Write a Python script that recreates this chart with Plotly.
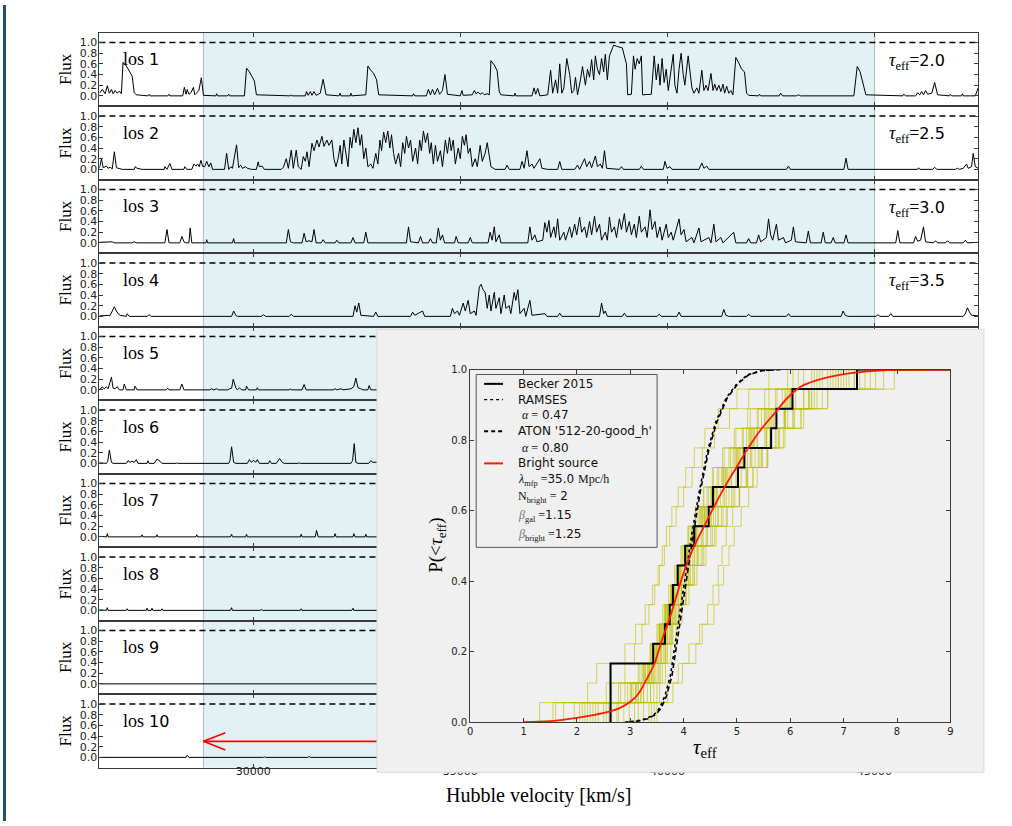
import plotly.graph_objects as go

W, H = 1012, 826

# ---------------- data ----------------
vel_range = [26290, 47500]
shade_range = [28800, 45000]
vel_ticks = [30000, 35000, 40000, 45000]
flux_ticks = [0.0, 0.2, 0.4, 0.6, 0.8, 1.0]
flux_range = [-0.193, 1.185]
unit_flux = 1.0
los_names = ["1", "2", "3", "4", "5", "6", "7", "8", "9", "10"]
tau_eff_labels = ["2.0", "2.5", "3.0", "3.5"]

los1 = [(26290,0.05),(26360,0.12),(26430,0.04),(26480,0.19),(26530,0.05),(26580,0.12),(26620,0.04),(26670,0.10),(26720,0.05),(26770,0.09),(26820,0.04),(26860,0.63),(26940,0.56),(26980,0.50),(27030,0.44),(27080,0.37),(27130,0.06),(27180,0.02),(27460,0.0),(27490,0.03),(27510,0.0),(27940,0.0),(27970,0.03),(27990,0.0),(28300,0.0),(28340,0.16),(28380,0.03),(28410,0.12),(28450,0.03),(28500,0.06),(28560,0.16),(28590,0.02),(28690,0.10),(28750,0.34),(28800,0.01),(29100,0.0),(29120,0.04),(29140,0.0),(29380,0.0),(29410,0.03),(29430,0.0),(29790,0.0),(29840,0.52),(29910,0.45),(29980,0.35),(30030,0.28),(30080,0.02),(30900,0.0),(30920,0.02),(30940,0.0),(31260,0.0),(31290,0.08),(31330,0.01),(31380,0.08),(31420,0.01),(31470,0.08),(31520,0.01),(31620,0.05),(31690,0.31),(31760,0.02),(32070,0.0),(32100,0.05),(32120,0.0),(32340,0.0),(32360,0.05),(32380,0.0),(32720,0.02),(32770,0.56),(32840,0.48),(32910,0.42),(32980,0.30),(33030,0.02),(33850,0.0),(33870,0.04),(33900,0.0),(34180,0.0),(34230,0.12),(34280,0.02),(34330,0.12),(34380,0.02),(34450,0.14),(34500,0.03),(34570,0.10),(34630,0.40),(34690,0.03),(35000,0.0),(35040,0.10),(35070,0.01),(35290,0.02),(35340,0.10),(35380,0.04),(35430,0.07),(35480,0.03),(35530,0.06),(35580,0.02),(35650,0.04),(35700,0.02),(35740,0.66),(35820,0.58),(35890,0.47),(35940,0.08),(35980,0.02),(36300,0.0),(36320,0.05),(36340,0.0),(36730,0.0),(36780,0.15),(36820,0.03),(36870,0.14),(36920,0.0),(37110,0.02),(37180,0.48),(37230,0.05),(37300,0.30),(37350,0.05),(37400,0.60),(37450,0.05),(37500,0.15),(37570,0.70),(37640,0.40),(37690,0.05),(37740,0.10),(37780,0.35),(37830,0.02),(37900,0.30),(37950,0.55),(38020,0.20),(38070,0.50),(38120,0.35),(38170,0.68),(38220,0.30),(38260,0.75),(38310,0.50),(38360,0.40),(38410,0.70),(38460,0.45),(38500,0.78),(38550,0.30),(38600,0.75),(38650,0.85),(38700,0.95),(38770,0.93),(38840,0.92),(38910,0.90),(38960,0.75),(39010,0.60),(39040,0.02),(39130,0.03),(39180,0.75),(39220,0.50),(39270,0.70),(39320,0.60),(39370,0.75),(39400,0.02),(39610,0.03),(39680,0.75),(39730,0.30),(39780,0.60),(39820,0.20),(39870,0.70),(39920,0.25),(39970,0.50),(40020,0.10),(40060,0.30),(40140,0.78),(40180,0.20),(40230,0.05),(40280,0.50),(40330,0.80),(40380,0.40),(40420,0.20),(40500,0.75),(40540,0.50),(40590,0.15),(40640,0.05),(40710,0.15),(40760,0.05),(40830,0.48),(40880,0.10),(40930,0.20),(40980,0.10),(41050,0.42),(41100,0.10),(41140,0.22),(41190,0.10),(41240,0.20),(41290,0.08),(41340,0.22),(41380,0.05),(41430,0.18),(41480,0.05),(41530,0.10),(41580,0.02),(41650,0.72),(41720,0.62),(41790,0.50),(41860,0.45),(41910,0.05),(41960,0.01),(42200,0.0),(42220,0.03),(42250,0.0),(42700,0.0),(42730,0.05),(42780,0.0),(43110,0.0),(43160,0.02),(43210,0.0),(44500,0.0),(44580,0.55),(44650,0.45),(44720,0.25),(44790,0.02),(45680,0.0),(45700,0.03),(45750,0.0),(45990,0.0),(46040,0.06),(46090,0.02),(46140,0.08),(46180,0.02),(46230,0.10),(46280,0.03),(46380,0.05),(46450,0.25),(46520,0.02),(46810,0.0),(46830,0.03),(46860,0.0),(47100,0.0),(47120,0.04),(47140,0.0),(47430,0.0),(47500,0.15)]

los2 = [(26290,0.02),(26340,0.2),(26380,0.03),(26460,0.06),(26500,0.02),(26550,0.04),(26600,0.01),(26650,0.33),(26700,0.03),(26770,0.02),(26840,0.0),(27130,0.0),(27150,0.05),(27200,0.02),(27320,0.0),(27850,0.0),(27870,0.05),(27920,0.0),(27940,0.03),(27990,0.11),(28040,0.0),(28330,0.0),(28350,0.05),(28400,0.0),(28520,0.0),(28570,0.1),(28620,0.06),(28660,0.1),(28700,0.05),(28740,0.17),(28780,0.06),(28830,0.05),(28880,0.15),(28930,0.05),(28980,0.12),(29020,0.0),(29310,0.0),(29360,0.3),(29410,0.0),(29460,0.05),(29500,0.02),(29600,0.46),(29650,0.03),(29700,0.08),(29740,0.02),(29820,0.05),(29860,0.02),(29960,0.0),(30080,0.0),(30120,0.14),(30150,0.05),(30220,0.06),(30270,0.0),(30680,0.0),(30730,0.04),(30800,0.2),(30850,0.02),(30920,0.36),(30970,0.02),(31040,0.36),(31090,0.05),(31160,0.0),(31210,0.24),(31260,0.15),(31300,0.33),(31350,0.05),(31420,0.49),(31470,0.35),(31540,0.55),(31590,0.42),(31660,0.62),(31710,0.43),(31780,0.55),(31830,0.45),(31900,0.55),(31950,0.2),(32000,0.05),(32050,0.2),(32100,0.45),(32140,0.1),(32190,0.55),(32240,0.3),(32290,0.05),(32340,0.6),(32380,0.4),(32430,0.75),(32480,0.5),(32530,0.78),(32580,0.45),(32620,0.65),(32670,0.2),(32720,0.4),(32770,0.05),(32840,0.1),(32890,0.02),(32960,0.3),(33010,0.1),(33060,0.55),(33100,0.35),(33150,0.7),(33200,0.5),(33250,0.72),(33300,0.4),(33340,0.65),(33390,0.3),(33440,0.1),(33510,0.3),(33560,0.05),(33610,0.5),(33660,0.3),(33700,0.62),(33750,0.4),(33800,0.55),(33850,0.15),(33920,0.4),(33970,0.1),(34020,0.55),(34060,0.35),(34110,0.72),(34160,0.5),(34210,0.68),(34260,0.3),(34300,0.5),(34350,0.1),(34400,0.45),(34450,0.15),(34520,0.35),(34570,0.05),(34640,0.55),(34690,0.3),(34740,0.6),(34780,0.35),(34830,0.55),(34880,0.1),(34950,0.4),(35000,0.2),(35050,0.62),(35100,0.45),(35140,0.65),(35190,0.3),(35240,0.4),(35290,0.05),(35360,0.2),(35410,0.05),(35480,0.45),(35530,0.15),(35600,0.3),(35650,0.5),(35700,0.2),(35740,0.05),(35840,0.0),(36080,0.0),(36130,0.08),(36180,0.0),(36440,0.0),(36490,0.15),(36540,0.02),(36610,0.35),(36660,0.05),(36730,0.1),(36780,0.02),(36920,0.2),(36970,0.02),(37110,0.0),(37350,0.0),(37400,0.15),(37450,0.0),(37760,0.0),(37830,0.08),(37880,0.0),(38000,0.2),(38050,0.05),(38120,0.15),(38170,0.03),(38260,0.25),(38310,0.05),(38380,0.1),(38430,0.02),(38480,0.35),(38530,0.02),(38840,0.0),(38890,0.05),(38940,0.0),(39320,0.0),(39370,0.06),(39420,0.0),(39900,0.0),(39940,0.15),(39990,0.02),(40060,0.05),(40110,0.0),(40760,0.0),(40830,0.12),(40880,0.02),(40950,0.06),(41000,0.0),(42870,0.0),(42920,0.06),(42970,0.0),(44260,0.0),(44310,0.21),(44360,0.0),(46040,0.0),(46060,0.03),(46090,0.0),(46400,0.0),(46450,0.04),(46500,0.0),(46950,0.0),(47000,0.02),(47050,0.0),(47140,0.02),(47220,0.1),(47260,0.02),(47340,0.05),(47380,0.3),(47430,0.05),(47500,0.02)]

los3 = [(26290,0.01),(26600,0.02),(26650,0.0),(27080,0.0),(27130,0.02),(27180,0.0),(27870,0.0),(27920,0.25),(27970,0.0),(28230,0.0),(28280,0.12),(28330,0.02),(28380,0.0),(28450,0.0),(28480,0.28),(28520,0.0),(28860,0.0),(28880,0.06),(28900,0.0),(29500,0.0),(29530,0.08),(29550,0.0),(30800,0.0),(30850,0.25),(30900,0.02),(30970,0.0),(31180,0.0),(31230,0.18),(31280,0.02),(31350,0.04),(31420,0.02),(31470,0.25),(31520,0.0),(31640,0.0),(31690,0.06),(31740,0.0),(31980,0.0),(32020,0.05),(32070,0.0),(32360,0.0),(32410,0.1),(32460,0.0),(32670,0.0),(32720,0.2),(32770,0.0),(33700,0.0),(33750,0.3),(33800,0.02),(33990,0.0),(34040,0.12),(34090,0.0),(34230,0.0),(34280,0.08),(34330,0.0),(34420,0.0),(34470,0.28),(34520,0.05),(34570,0.15),(34620,0.0),(34860,0.0),(34900,0.12),(34950,0.0),(35190,0.0),(35240,0.1),(35290,0.0),(35670,0.0),(35720,0.2),(35770,0.05),(35820,0.3),(35860,0.02),(35940,0.15),(35980,0.0),(36630,0.0),(36680,0.3),(36730,0.05),(36800,0.15),(36850,0.02),(36990,0.05),(37040,0.38),(37090,0.2),(37140,0.42),(37180,0.1),(37260,0.3),(37300,0.1),(37350,0.45),(37400,0.05),(37500,0.2),(37540,0.05),(37640,0.3),(37690,0.1),(37760,0.35),(37810,0.15),(37880,0.48),(37930,0.2),(38000,0.3),(38050,0.1),(38120,0.4),(38170,0.15),(38240,0.5),(38290,0.2),(38360,0.35),(38410,0.05),(38500,0.2),(38550,0.05),(38600,0.48),(38650,0.2),(38720,0.3),(38770,0.1),(38840,0.45),(38890,0.25),(38960,0.55),(39010,0.2),(39080,0.4),(39130,0.15),(39200,0.35),(39250,0.1),(39320,0.5),(39370,0.2),(39460,0.3),(39510,0.1),(39580,0.62),(39630,0.25),(39700,0.4),(39750,0.1),(39820,0.3),(39870,0.05),(39970,0.35),(40020,0.1),(40090,0.2),(40140,0.05),(40280,0.45),(40330,0.15),(40400,0.25),(40450,0.02),(40590,0.1),(40640,0.0),(40760,0.28),(40810,0.02),(41000,0.1),(41050,0.0),(41120,0.35),(41170,0.02),(41290,0.1),(41340,0.0),(41600,0.2),(41650,0.0),(41910,0.0),(41960,0.08),(42010,0.0),(42150,0.0),(42200,0.15),(42250,0.02),(42390,0.1),(42440,0.45),(42490,0.15),(42540,0.05),(42630,0.35),(42680,0.05),(42800,0.1),(42850,0.0),(42990,0.05),(43040,0.3),(43090,0.02),(43350,0.0),(43400,0.22),(43450,0.0),(43710,0.0),(43760,0.2),(43810,0.0),(43950,0.0),(44000,0.1),(44050,0.0),(44260,0.0),(44310,0.15),(44360,0.0),(45510,0.0),(45560,0.23),(45610,0.0),(45940,0.0),(45990,0.12),(46040,0.03),(46110,0.05),(46180,0.3),(46230,0.02),(46420,0.0),(46470,0.04),(46520,0.0),(46710,0.0),(46760,0.04),(46810,0.0),(47140,0.0),(47190,0.05),(47240,0.0),(47500,0.01)]

los4 = [(26290,0.01),(26550,0.02),(26600,0.1),(26650,0.18),(26700,0.1),(26740,0.05),(26790,0.02),(26940,0.0),(26960,0.05),(27010,0.0),(27440,0.0),(27490,0.03),(27540,0.0),(29480,0.0),(29530,0.1),(29580,0.02),(29620,0.0),(30200,0.0),(30250,0.03),(30300,0.0),(30870,0.0),(30920,0.04),(30970,0.0),(32410,0.0),(32460,0.2),(32500,0.08),(32550,0.25),(32600,0.02),(32910,0.0),(32960,0.08),(33010,0.0),(33800,0.0),(33850,0.08),(33900,0.02),(34090,0.1),(34140,0.0),(34760,0.0),(34810,0.15),(34860,0.05),(34930,0.1),(34980,0.02),(35070,0.25),(35120,0.1),(35190,0.3),(35240,0.05),(35340,0.1),(35380,0.02),(35460,0.55),(35500,0.6),(35550,0.5),(35600,0.45),(35650,0.15),(35700,0.4),(35740,0.1),(35820,0.45),(35860,0.15),(35940,0.35),(35980,0.05),(36060,0.4),(36100,0.15),(36180,0.2),(36220,0.05),(36300,0.45),(36340,0.3),(36390,0.5),(36440,0.05),(36540,0.15),(36580,0.0),(36680,0.3),(36730,0.02),(37040,0.05),(37090,0.0),(37350,0.0),(37400,0.06),(37450,0.0),(38360,0.0),(38410,0.25),(38460,0.05),(38500,0.1),(38550,0.0),(38910,0.0),(38960,0.06),(39010,0.0),(39750,0.0),(39800,0.04),(39850,0.0),(40230,0.0),(40280,0.08),(40330,0.0),(41310,0.0),(41360,0.13),(41410,0.02),(41480,0.0),(41910,0.0),(41960,0.04),(42010,0.0),(42870,0.0),(42920,0.05),(42970,0.0),(44190,0.0),(44240,0.1),(44290,0.02),(44360,0.0),(45030,0.0),(45080,0.03),(45130,0.0),(45340,0.0),(45390,0.05),(45440,0.0),(47140,0.0),(47190,0.05),(47240,0.16),(47290,0.08),(47340,0.02),(47500,0.01)]

los5 = [(26290,0.01),(26360,0.05),(26410,0.02),(26460,0.06),(26500,0.02),(26580,0.24),(26620,0.03),(26670,0.02),(26720,0.06),(26770,0.0),(26860,0.0),(26890,0.11),(26940,0.0),(27130,0.0),(27150,0.07),(27200,0.0),(27900,0.0),(27940,0.03),(27970,0.0),(28230,0.0),(28280,0.11),(28330,0.0),(28950,0.0),(29000,0.02),(29050,0.0),(29120,0.02),(29170,0.0),(29380,0.0),(29430,0.02),(29480,0.03),(29520,0.2),(29580,0.04),(29620,0.0),(29670,0.04),(29720,0.0),(29820,0.0),(29840,0.07),(29890,0.0),(30080,0.0),(30100,0.04),(30130,0.0),(30870,0.0),(30900,0.02),(30920,0.0),(31180,0.0),(31230,0.1),(31280,0.0),(31930,0.0),(31980,0.02),(32020,0.0),(32120,0.02),(32170,0.0),(32360,0.02),(32430,0.06),(32480,0.22),(32530,0.04),(32600,0.02),(32650,0.0),(32770,0.0),(32800,0.08),(32840,0.0),(47500,0.0)]

los6 = [(26290,0.01),(26460,0.0),(26490,0.04),(26530,0.25),(26580,0.02),(26620,0.0),(26940,0.0),(26980,0.05),(27030,0.02),(27080,0.04),(27130,0.02),(27180,0.07),(27220,0.0),(27440,0.0),(27460,0.05),(27490,0.0),(27610,0.0),(27680,0.08),(27750,0.04),(27800,0.0),(28140,0.0),(28160,0.01),(28180,0.0),(29410,0.0),(29440,0.05),(29480,0.31),(29530,0.02),(29580,0.0),(29860,0.0),(29910,0.07),(29960,0.02),(30010,0.06),(30060,0.02),(30100,0.07),(30150,0.0),(30370,0.0),(30400,0.05),(30440,0.0),(30560,0.0),(30640,0.09),(30700,0.02),(30750,0.0),(31090,0.0),(31110,0.01),(31140,0.0),(32360,0.0),(32400,0.05),(32440,0.37),(32480,0.02),(32530,0.0),(32790,0.0),(32840,0.05),(32890,0.02),(47500,0.0)]

los7 = [(26290,0.01),(26460,0.0),(26480,0.06),(26500,0.0),(27300,0.0),(27320,0.04),(27340,0.0),(27660,0.0),(27680,0.04),(27700,0.0),(28620,0.0),(28640,0.04),(28660,0.0),(29450,0.0),(29480,0.05),(29500,0.0),(29820,0.0),(29840,0.05),(29860,0.0),(31140,0.0),(31160,0.05),(31180,0.0),(31500,0.0),(31530,0.12),(31570,0.0),(31950,0.0),(31980,0.06),(32000,0.0),(32410,0.0),(32430,0.06),(32460,0.0),(32700,0.0),(32720,0.05),(32740,0.0),(47500,0.0)]

los8 = [(26290,0.01),(26460,0.0),(26480,0.05),(26500,0.0),(26940,0.0),(26960,0.03),(26980,0.0),(27420,0.0),(27440,0.04),(27460,0.0),(27540,0.0),(27560,0.04),(27580,0.0),(27780,0.0),(27800,0.03),(27820,0.0),(29450,0.0),(29480,0.05),(29500,0.0),(30170,0.0),(30200,0.02),(30220,0.0),(31140,0.0),(31160,0.03),(31180,0.0),(32380,0.0),(32410,0.04),(32430,0.0),(47500,0.0)]

los9 = [(26290,0.0),(28780,0.0),(28800,0.01),(28830,0.0),(47500,0.0)]

los10 = [(26290,0.0),(27300,0.0),(27320,0.01),(27340,0.0),(28380,0.0),(28410,0.04),(28450,0.0),(30250,0.0),(30270,0.01),(30300,0.0),(31330,0.0),(31350,0.02),(31380,0.0),(47500,0.0)]

all_los = [los1, los2, los3, los4, los5, los6, los7, los8, los9, los10]

arrow_tail_v = 34500
arrow_tip_v = 28800
arrow_flux = 0.3
arrow_head_dv = 530
arrow_head_df = 0.16

# CDF inset data
tau_range = [0, 9]
tau_ticks = [0, 1, 2, 3, 4, 5, 6, 7, 8, 9]
p_ticks = [0.0, 0.2, 0.4, 0.6, 0.8, 1.0]
becker_tau = [2.63, 2.63, 2.63, 3.43, 3.65, 3.74, 3.80, 3.89, 4.03, 4.20, 4.47, 4.55, 5.02, 5.14, 5.64, 5.74, 6.04, 7.25]
ramses_tau = [2.90, 3.10, 3.30, 3.45, 3.55, 3.65, 3.75, 3.85, 3.95, 4.05, 4.15, 4.30, 4.45, 4.60, 4.80, 5.00, 5.20, 5.45, 5.80]
ramses_p = [0.0, 0.003, 0.01, 0.022, 0.04, 0.075, 0.13, 0.23, 0.34, 0.44, 0.53, 0.66, 0.77, 0.85, 0.92, 0.96, 0.985, 0.997, 1.0]
aton_tau = [2.95, 3.15, 3.33, 3.48, 3.58, 3.68, 3.78, 3.88, 3.98, 4.08, 4.18, 4.32, 4.47, 4.62, 4.82, 5.02, 5.22, 5.47, 5.82]
aton_p = [0.0, 0.003, 0.01, 0.022, 0.04, 0.075, 0.13, 0.23, 0.34, 0.44, 0.53, 0.66, 0.77, 0.85, 0.92, 0.96, 0.985, 0.997, 1.0]
bright_tau = [1.0, 1.5, 2.0, 2.3, 2.6, 2.8, 3.0, 3.15, 3.3, 3.45, 3.6, 3.75, 3.9, 4.05, 4.2, 4.4, 4.6, 4.8, 5.0, 5.2, 5.45, 5.7, 5.95, 6.2, 6.5, 6.9, 7.4, 8.0, 9.0]
bright_p = [0.0, 0.003, 0.012, 0.02, 0.03, 0.04, 0.058, 0.08, 0.12, 0.165, 0.235, 0.30, 0.375, 0.445, 0.50, 0.56, 0.62, 0.675, 0.725, 0.775, 0.83, 0.875, 0.92, 0.952, 0.97, 0.984, 0.994, 0.999, 1.0]

mock_samples = [
    [2.30, 3.10, 3.35, 3.50, 3.62, 3.72, 3.83, 3.95, 4.08, 4.22, 4.40, 4.62, 4.85, 5.10, 5.38, 5.70, 6.10, 6.90],
    [1.30, 2.95, 3.25, 3.42, 3.55, 3.66, 3.78, 3.90, 4.02, 4.16, 4.32, 4.52, 4.75, 5.00, 5.28, 5.60, 6.00, 6.60],
    [2.75, 3.20, 3.42, 3.58, 3.70, 3.82, 3.95, 4.10, 4.26, 4.44, 4.65, 4.90, 5.18, 5.48, 5.80, 6.20, 6.70, 7.95],
    [2.05, 2.65, 3.28, 3.46, 3.58, 3.70, 3.82, 3.94, 4.08, 4.24, 4.42, 4.64, 4.90, 5.20, 5.52, 5.90, 6.35, 7.40],
    [3.15, 3.38, 3.52, 3.66, 3.78, 3.90, 4.04, 4.20, 4.38, 4.58, 4.80, 5.04, 5.30, 5.58, 5.90, 6.25, 6.70, 7.10],
    [2.40, 3.02, 3.22, 3.38, 3.50, 3.61, 3.72, 3.83, 3.95, 4.08, 4.22, 4.38, 4.56, 4.76, 4.98, 5.25, 5.60, 6.05],
    [1.75, 3.25, 3.45, 3.58, 3.70, 3.82, 3.96, 4.10, 4.25, 4.42, 4.60, 4.80, 5.02, 5.28, 5.56, 5.88, 6.25, 6.80],
    [2.88, 3.25, 3.44, 3.57, 3.68, 3.79, 3.90, 4.01, 4.13, 4.27, 4.43, 4.61, 4.82, 5.06, 5.33, 5.65, 6.05, 6.45],
    [2.20, 3.00, 3.32, 3.50, 3.63, 3.75, 3.88, 4.02, 4.17, 4.33, 4.52, 4.74, 4.98, 5.25, 5.55, 5.90, 6.35, 7.30],
    [3.35, 3.50, 3.60, 3.70, 3.80, 3.92, 4.05, 4.20, 4.36, 4.54, 4.74, 4.96, 5.20, 5.46, 5.75, 6.08, 6.50, 7.20],
    [2.60, 3.12, 3.35, 3.49, 3.60, 3.70, 3.80, 3.91, 4.02, 4.15, 4.30, 4.47, 4.66, 4.88, 5.12, 5.40, 5.75, 6.15],
    [1.95, 2.78, 3.18, 3.40, 3.55, 3.67, 3.79, 3.92, 4.06, 4.21, 4.38, 4.57, 4.78, 5.02, 5.28, 5.58, 5.98, 6.90],
    [2.98, 3.38, 3.54, 3.65, 3.75, 3.85, 3.96, 4.08, 4.21, 4.35, 4.51, 4.69, 4.89, 5.12, 5.38, 5.68, 6.05, 6.55],
    [2.50, 3.10, 3.33, 3.47, 3.58, 3.69, 3.80, 3.92, 4.05, 4.19, 4.35, 4.53, 4.73, 4.96, 5.22, 5.52, 5.92, 7.60],
    [2.15, 3.02, 3.28, 3.44, 3.56, 3.66, 3.76, 3.86, 3.97, 4.09, 4.22, 4.37, 4.54, 4.73, 4.95, 5.20, 5.52, 6.25],
    [3.08, 3.32, 3.48, 3.62, 3.74, 3.86, 3.99, 4.13, 4.28, 4.45, 4.64, 4.85, 5.08, 5.34, 5.62, 5.95, 6.35, 6.75],
    [2.35, 2.90, 3.24, 3.43, 3.56, 3.67, 3.78, 3.90, 4.03, 4.17, 4.33, 4.51, 4.71, 4.93, 5.18, 5.46, 5.85, 7.20],
    [2.78, 3.20, 3.40, 3.54, 3.66, 3.78, 3.91, 4.05, 4.20, 4.37, 4.56, 4.77, 5.00, 5.26, 5.55, 5.90, 6.40, 7.75],
    [1.55, 3.15, 3.39, 3.52, 3.63, 3.74, 3.85, 3.97, 4.10, 4.24, 4.40, 4.58, 4.78, 5.00, 5.25, 5.55, 5.95, 6.50],
    [3.25, 3.44, 3.56, 3.67, 3.78, 3.90, 4.03, 4.17, 4.33, 4.51, 4.71, 4.93, 5.17, 5.43, 5.72, 6.05, 6.45, 7.00],
    [2.55, 3.05, 3.27, 3.42, 3.54, 3.65, 3.76, 3.87, 3.99, 4.12, 4.27, 4.44, 4.63, 4.85, 5.10, 5.38, 5.72, 6.40],
    [2.10, 2.82, 3.15, 3.37, 3.52, 3.64, 3.76, 3.89, 4.03, 4.18, 4.35, 4.54, 4.75, 4.98, 5.24, 5.52, 5.90, 6.85],
    [3.40, 3.55, 3.66, 3.76, 3.86, 3.97, 4.10, 4.25, 4.42, 4.61, 4.82, 5.05, 5.30, 5.57, 5.87, 6.20, 6.60, 7.50],
    [2.65, 3.15, 3.36, 3.50, 3.61, 3.71, 3.82, 3.94, 4.07, 4.22, 4.39, 4.58, 4.80, 5.04, 5.31, 5.62, 6.00, 6.70],
    [3.50, 3.80, 3.98, 4.23, 4.35, 4.57, 4.66, 4.75, 4.85, 4.95, 5.08, 5.22, 5.38, 5.56, 5.78, 6.05, 6.40, 7.05],
    [3.45, 3.70, 3.90, 4.10, 4.30, 4.45, 4.55, 4.65, 4.72, 4.80, 4.92, 5.05, 5.20, 5.40, 5.62, 5.90, 6.25, 6.95],
    [1.60, 2.20, 2.37, 2.90, 3.10, 3.28, 3.42, 3.52, 3.60, 3.68, 3.78, 3.90, 4.04, 4.20, 4.40, 4.65, 5.00, 5.60],
    [2.25, 2.55, 2.90, 3.08, 3.22, 3.35, 3.46, 3.55, 3.64, 3.74, 3.86, 4.00, 4.16, 4.35, 4.58, 4.86, 5.22, 5.95],
]

# ---------------- helpers (layout positions in pixels -> paper) ----------------
def px(x):
    return x / W

def py(y):
    return 1 - y / H

SERIF = "Liberation Serif"
SANS = "DejaVu Sans"
AX = "#3a3a3a"

def ecdf(values):
    xs = [values[0]] + list(values) + [tau_range[1]]
    n = len(values)
    ys = [0.0] + [(i + 1) / n for i in range(n)] + [1.0]
    return xs, ys

def note(x, y, text, size, family=SANS, xanchor="center", yanchor="middle", angle=0, color="black"):
    return dict(xref="paper", yref="paper", x=px(x), y=py(y), text=text, showarrow=False,
                xanchor=xanchor, yanchor=yanchor, textangle=angle,
                font=dict(family=family, size=size, color=color))

fig = go.Figure()
layout = {}
shapes = []
annotations = []

panel_top0, panel_h = 28.0, 74.4
for k in range(10):
    T = panel_top0 + panel_h * k
    B = T + panel_h
    sfx = "" if k == 0 else str(k + 1)
    xname, yname = "x" + sfx, "y" + sfx
    layout["xaxis" + sfx] = dict(
        domain=[px(97), px(981)], anchor=yname, range=vel_range,
        tickvals=vel_ticks, ticktext=[str(v) for v in vel_ticks],
        ticks="inside", ticklen=4, tickcolor=AX,
        showline=True, linecolor=AX, linewidth=1, mirror="ticks",
        showgrid=False, zeroline=False, showticklabels=(k == 9),
        ticklabelstandoff=-7,
        tickfont=dict(family=SANS, size=11, color="#222"),
    )
    layout["yaxis" + sfx] = dict(
        domain=[py(B), py(T)], anchor=xname, range=flux_range,
        tickvals=flux_ticks, ticktext=["%.1f" % t for t in flux_ticks],
        ticks="inside", ticklen=4, tickcolor=AX,
        showline=True, linecolor=AX, linewidth=1, mirror="ticks",
        showgrid=False, zeroline=False, ticklabelstandoff=-1,
        tickfont=dict(family=SANS, size=11, color="#222"),
    )
    shapes.append(dict(type="rect", xref=xname, yref=yname + " domain",
                       x0=shade_range[0], x1=shade_range[1], y0=0, y1=1,
                       fillcolor="#e1f1f4", line=dict(width=0), layer="below"))
    for xv in shade_range:
        shapes.append(dict(type="line", xref=xname, yref=yname + " domain",
                           x0=xv, x1=xv, y0=0, y1=1,
                           line=dict(color="rgba(140,160,165,0.7)", width=1), layer="below"))
    shapes.append(dict(type="line", xref=xname + " domain", yref=yname,
                       x0=0, x1=1, y0=unit_flux, y1=unit_flux,
                       line=dict(color="black", width=1.6, dash="6px,4px"), layer="below"))
    data = all_los[k]
    fig.add_trace(go.Scatter(x=[p[0] for p in data], y=[p[1] for p in data],
                             mode="lines", line=dict(color="black", width=1),
                             xaxis=xname, yaxis=yname, showlegend=False, hoverinfo="skip"))
    annotations.append(note(63, T + panel_h / 2, "Flux", 17, family=SERIF, angle=-90))
    annotations.append(note(119, T + 27,
                            "<span style=\"font-family:'%s';font-size:18px\">los</span> %s" % (SERIF, los_names[k]),
                            16, xanchor="left"))
    if k < len(tau_eff_labels):
        annotations.append(note(889, T + 29,
                                "<span style=\"font-family:'%s';font-size:18px\"><i>τ</i><sub>eff</sub>=</span>%s" % (SERIF, tau_eff_labels[k]),
                                16, xanchor="left"))

fig.add_trace(go.Scatter(
    x=[arrow_tail_v, arrow_tip_v, None, arrow_tip_v + arrow_head_dv, arrow_tip_v, arrow_tip_v + arrow_head_dv],
    y=[arrow_flux, arrow_flux, None, arrow_flux + arrow_head_df, arrow_flux, arrow_flux - arrow_head_df],
    mode="lines", line=dict(color="#ff0000", width=1.6),
    xaxis="x10", yaxis="y10", showlegend=False, hoverinfo="skip"))

annotations.append(note(539, 800, "Hubble velocity [km/s]", 20, family=SERIF))

# ---------------- inset background (subplot 11) ----------------
layout["xaxis11"] = dict(domain=[px(375), px(988)], anchor="y11", range=[-0.002, 1.002], visible=False)
layout["yaxis11"] = dict(domain=[py(778), py(327)], anchor="x11", range=[-0.003, 1.003], visible=False)
fig.add_trace(go.Scatter(x=[0, 1, 1, 0, 0], y=[0, 0, 1, 1, 0], mode="lines", fill="toself",
                         fillcolor="#f0f0f0", line=dict(color="#dadada", width=1),
                         xaxis="x11", yaxis="y11", showlegend=False, hoverinfo="skip"))

# ---------------- CDF inset (subplot 12) ----------------
layout["xaxis12"] = dict(domain=[px(470), px(953)], anchor="y12", range=tau_range,
                         tickvals=tau_ticks, ticks="inside", ticklen=4, tickcolor=AX,
                         showline=True, linecolor=AX, linewidth=1.2, mirror="ticks",
                         showgrid=False, zeroline=False,
                         tickfont=dict(family=SANS, size=10, color="#222"))
layout["yaxis12"] = dict(domain=[py(726), py(369)], anchor="x12", range=[0, 1],
                         tickvals=p_ticks, ticktext=["%.1f" % t for t in p_ticks],
                         ticks="inside", ticklen=4, tickcolor=AX,
                         showline=True, linecolor=AX, linewidth=1.2, mirror="ticks",
                         showgrid=False, zeroline=False,
                         tickfont=dict(family=SANS, size=10, color="#222"))

for sample in mock_samples:
    xs, ys = ecdf(sample)
    fig.add_trace(go.Scatter(x=xs, y=ys, mode="lines", line_shape="hv",
                             line=dict(color="rgba(190,190,0,0.6)", width=1),
                             xaxis="x12", yaxis="y12", showlegend=False, hoverinfo="skip"))
bx, by = ecdf(becker_tau)
fig.add_trace(go.Scatter(x=bx, y=by, mode="lines", line_shape="hv",
                         line=dict(color="black", width=2),
                         xaxis="x12", yaxis="y12", showlegend=False, hoverinfo="skip"))
fig.add_trace(go.Scatter(x=ramses_tau, y=ramses_p, mode="lines",
                         line=dict(color="black", width=1.6, dash="dot"),
                         xaxis="x12", yaxis="y12", showlegend=False, hoverinfo="skip"))
fig.add_trace(go.Scatter(x=aton_tau, y=aton_p, mode="lines",
                         line=dict(color="black", width=1.6, dash="5px,3px"),
                         xaxis="x12", yaxis="y12", showlegend=False, hoverinfo="skip"))
fig.add_trace(go.Scatter(x=bright_tau, y=bright_p, mode="lines", line_shape="spline",
                         line=dict(color="#ff1a00", width=1.8),
                         xaxis="x12", yaxis="y12", showlegend=False, hoverinfo="skip"))

annotations.append(note(437, 547, "P(&lt;<i>τ</i><sub>eff</sub>)", 19, family=SERIF, angle=-90))
annotations.append(note(706, 752, "<i>τ</i><sub>eff</sub>", 21, family=SERIF))

shapes.append(dict(type="rect", xref="paper", yref="paper", x0=px(476), x1=px(658),
                   y0=py(549), y1=py(374), line=dict(color="#555", width=1),
                   fillcolor="rgba(0,0,0,0)", layer="above"))
leg_lines = [(383.5, "black", "solid", 2), (399.5, "black", "dot", 1.2),
             (431.5, "black", "4px,3px", 2), (464, "#ff1a00", "solid", 2)]
for yy, col, dsh, wd in leg_lines:
    shapes.append(dict(type="line", xref="paper", yref="paper", x0=px(484), x1=px(503),
                       y0=py(yy), y1=py(yy), line=dict(color=col, width=wd, dash=dsh), layer="above"))

S = "<span style=\"font-family:'%s'\">" % SERIF
G = "<span style=\"font-family:'%s';color:#777\">" % SERIF
leg_texts = [
    (516, 383.5, "Becker 2015"),
    (516, 399.5, "RAMSES"),
    (520, 415.5, S + "<i>α</i> =</span> 0.47"),
    (516, 431.5, "ATON '512-20-good_h'"),
    (520, 448, S + "<i>α</i> =</span> 0.80"),
    (516, 464, "Bright source"),
    (516, 480.5, S + "<i>λ</i><sub>mfp</sub> =</span>35.0 " + S + "Mpc/h</span>"),
    (516, 498.5, S + "N<sub>bright</sub> =</span> 2"),
    (516, 517.5, G + "<i>β</i></span>" + S + "<sub>gal</sub> =</span>1.15"),
    (516, 537, G + "<i>β</i></span>" + S + "<sub>bright</sub> =</span>1.25"),
]
for xx, yy, t in leg_texts:
    annotations.append(note(xx, yy, t, 12, xanchor="left", color="#111"))

shapes.append(dict(type="rect", xref="paper", yref="paper", x0=0, x1=px(3), y0=0, y1=1,
                   fillcolor="#1d4e6c", line=dict(width=0), layer="above"))

fig.update_layout(
    width=W, height=H, margin=dict(l=0, r=0, t=0, b=0),
    paper_bgcolor="white", plot_bgcolor="rgba(0,0,0,0)",
    showlegend=False, shapes=shapes, annotations=annotations, **layout,
)

fig.write_html(
    "out.html",
    config={"displayModeBar": False},
    post_script=("document.body.style.margin='0';document.body.style.overflow='hidden';"
                 "var d=document.getElementById('{plot_id}');d.style.position='fixed';"
                 "d.style.left='0px';d.style.top='0px';"),
)
